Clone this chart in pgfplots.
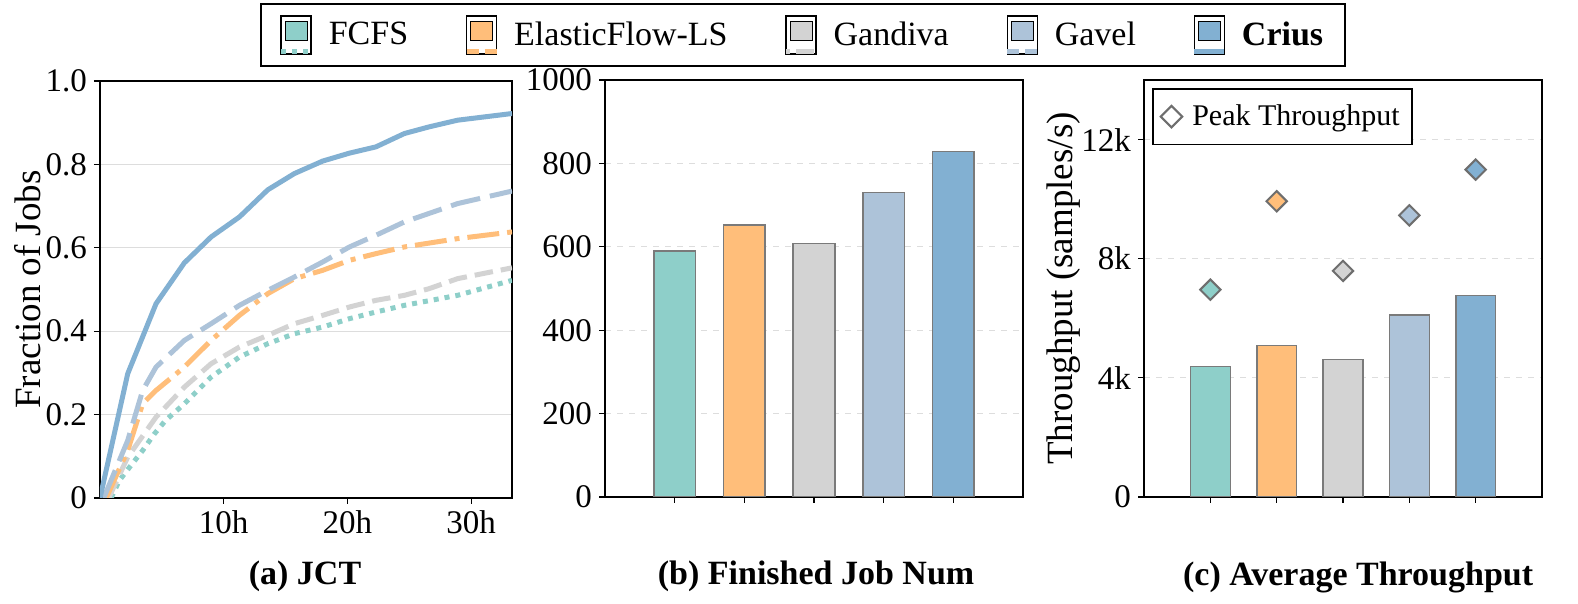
\documentclass[border=0pt]{standalone}
\usepackage{fontspec}
\setmainfont{Liberation Serif}
\usepackage{pgfplots}
\pgfplotsset{compat=1.18}

\definecolor{cFCFS}{HTML}{8ECFC9}
\definecolor{cEF}{HTML}{FFBE7A}
\definecolor{cGan}{HTML}{D3D3D3}
\definecolor{cGav}{HTML}{ADC3D9}
\definecolor{cCri}{HTML}{82B0D2}
\definecolor{edgegray}{HTML}{7A7A7A}
\definecolor{gridgray}{HTML}{DDDDDD}

\pgfplotsset{
  panel/.style={
    scale only axis, height=208.5pt,
    axis line style={black, line width=0.6pt},
    tick style={black, line width=0.6pt},
    tick align=outside, major tick length=3pt,
    xtick pos=bottom, ytick pos=left,
    ticklabel style={font=\fontsize{16.5}{18}\selectfont},
    ylabel style={font=\fontsize{18.5}{20}\selectfont},
    xlabel style={font=\fontsize{17}{20}\selectfont\bfseries, anchor=center},
    ymajorgrids,
    clip=true,
  },
  legpatch/.style 2 args={legend image code/.code={
    \path (0pt,-9.5pt) rectangle (15pt,9.5pt);
    \draw[fill=#1, draw=black, line width=0.6pt] (2pt,-2.75pt) rectangle (13pt,6.75pt);
    \draw[#1, line width=2.5pt, #2] (0pt,-8.25pt) -- (15pt,-8.25pt);
  }},
  bar/.style={ybar, bar width=0.6, bar shift=0pt, fill=#1, draw=edgegray, line width=0.75pt},
  peak/.style={only marks, mark=square*, mark size=3.6pt,
    mark options={rotate=45, fill=#1, draw=edgegray!90!black, line width=1pt}},
}

\begin{document}
\begin{tikzpicture}
\path[use as bounding box] (0pt,0pt) rectangle (789pt,302pt);

% (a) JCT CDF
\begin{axis}[panel,
  at={(50pt,53pt)}, anchor=south west, width=206pt,
  xmin=0, xmax=33.3, ymin=0, ymax=1,
  xtick={10,20,30}, xticklabels={10h,20h,30h},
  ytick={0,0.2,0.4,0.6,0.8,1.0}, yticklabels={0,0.2,0.4,0.6,0.8,1.0},
  grid style={gridgray, line width=0.6pt},
  ylabel={Fraction of Jobs},
  ylabel style={at={(axis description cs:-0.175,0.5)}, anchor=center},
  xlabel={(a) JCT},
  xlabel style={at={(axis description cs:0.4976,-0.189)}},
  legend columns=5,
  legend style={at={(axis description cs:1.7063,1.1103)}, anchor=center,
    draw=black, line width=0.8pt, font=\fontsize{17}{20}\selectfont,
    inner xsep=9pt, inner ysep=5.5pt,
    /tikz/every odd column/.append style={column sep=5.5pt},
    /tikz/every even column/.append style={column sep=26pt}},
  legend cell align=left,
]
\addlegendimage{legpatch={cFCFS}{dash pattern=on 2.5pt off 3pt}}
\addlegendentry{FCFS}
\addlegendimage{legpatch={cEF}{dash pattern=on 6pt off 3pt}}
\addlegendentry{ElasticFlow-LS}
\addlegendimage{legpatch={cGan}{dash pattern=on 2pt off 3pt on 9pt off 1pt}}
\addlegendentry{Gandiva}
\addlegendimage{legpatch={cGav}{dash pattern=on 6pt off 3pt}}
\addlegendentry{Gavel}
\addlegendimage{legpatch={cCri}{}}
\addlegendentry{\textbf{Crius}}

\addplot[forget plot, cFCFS, line width=2.5pt, dash pattern=on 2.5pt off 3pt] coordinates {
 (0.9,0) (1.56,0.042) (2.5,0.078) (3.45,0.114) (4.4,0.154) (5.3,0.186) (6.82,0.226)
 (8.98,0.29) (11.27,0.338) (13.56,0.37) (15.71,0.394) (18.0,0.41) (20.16,0.43)
 (22.3,0.446) (24.6,0.462) (28.9,0.486) (33.3,0.522)};
\addplot[forget plot, cGan, line width=2.5pt, dash pattern=on 9.25pt off 4pt] coordinates {
 (0.7,0) (2.24,0.098) (4.53,0.194) (6.82,0.266) (8.98,0.322) (11.27,0.362)
 (13.56,0.39) (15.71,0.418) (18.0,0.438) (20.16,0.458) (22.3,0.474) (24.6,0.486)
 (26.6,0.502) (28.9,0.526) (33.3,0.552)};
\addplot[forget plot, cEF, line width=2.5pt, dash pattern=on 16pt off 4pt on 2.5pt off 4pt] coordinates {
 (0.5,0) (2.24,0.114) (3.45,0.226) (4.53,0.258) (6.82,0.314) (8.98,0.378)
 (11.27,0.438) (13.56,0.49) (15.71,0.526) (18.0,0.546) (20.16,0.57) (22.3,0.586)
 (24.6,0.602) (28.9,0.622) (33.3,0.638)};
\addplot[forget plot, cGav, line width=2.5pt, dash pattern=on 15pt off 5pt] coordinates {
 (0.3,0) (2.24,0.138) (3.45,0.258) (4.53,0.314) (6.82,0.378) (8.98,0.418)
 (11.27,0.462) (13.56,0.498) (15.71,0.53) (18.0,0.566) (20.16,0.602) (22.3,0.63)
 (24.6,0.662) (28.9,0.706) (33.3,0.736)};
\addplot[forget plot, cCri, line width=2.5pt] coordinates {
 (0,0) (2.24,0.298) (4.53,0.466) (6.82,0.564) (8.98,0.626) (11.27,0.674)
 (13.56,0.739) (15.71,0.778) (18.0,0.808) (20.16,0.827) (22.3,0.842) (24.6,0.874)
 (26.6,0.890) (28.9,0.906) (33.3,0.922)};
\end{axis}

% (b) Finished Job Num
\begin{axis}[panel,
  at={(302.5pt,53.5pt)}, anchor=south west, width=209pt,
  xmin=-1, xmax=5, ymin=0, ymax=1000,
  xtick={0,1,2,3,4}, xticklabels={},
  ytick={0,200,400,600,800,1000}, yticklabels={0,200,400,600,800,1000},
  grid style={gridgray, line width=0.6pt, dashed},
  xlabel={(b) Finished Job Num},
  xlabel style={at={(axis description cs:0.505,-0.19)}},
]
\addplot[bar=cFCFS] coordinates {(0,590)};
\addplot[bar=cEF] coordinates {(1,652)};
\addplot[bar=cGan] coordinates {(2,608)};
\addplot[bar=cGav] coordinates {(3,730)};
\addplot[bar=cCri] coordinates {(4,829)};
\end{axis}

% (c) Average Throughput
\begin{axis}[panel,
  at={(572pt,53.5pt)}, anchor=south west, width=199pt,
  xmin=-1, xmax=5, ymin=0, ymax=14000,
  xtick={0,1,2,3,4}, xticklabels={},
  ytick={0,4000,8000,12000}, yticklabels={0,4k,8k,12k},
  scaled y ticks=false,
  grid style={gridgray, line width=0.6pt, dashed},
  ylabel={Throughput (samples/s)},
  ylabel style={at={(axis description cs:-0.201,0.5)}, anchor=center},
  xlabel={(c) Average Throughput},
  xlabel style={at={(axis description cs:0.538,-0.192)}},
  legend style={at={(axis description cs:0.02,0.981)}, anchor=north west,
    draw=black, line width=0.8pt, font=\fontsize{15}{18}\selectfont,
    inner xsep=4pt, inner ysep=6pt,
    /tikz/every odd column/.append style={column sep=3pt}},
  legend cell align=left,
]
\addlegendimage{only marks, mark=square, mark size=3.8pt,
  mark options={rotate=45, draw=edgegray!90!black, line width=1pt}}
\addlegendentry{Peak Throughput}
\addplot[forget plot, bar=cFCFS] coordinates {(0,4380)};
\addplot[forget plot, bar=cEF] coordinates {(1,5090)};
\addplot[forget plot, bar=cGan] coordinates {(2,4615)};
\addplot[forget plot, bar=cGav] coordinates {(3,6110)};
\addplot[forget plot, bar=cCri] coordinates {(4,6770)};
\addplot[forget plot, peak=cFCFS] coordinates {(0,6960)};
\addplot[forget plot, peak=cEF] coordinates {(1,9930)};
\addplot[forget plot, peak=cGan] coordinates {(2,7590)};
\addplot[forget plot, peak=cGav] coordinates {(3,9455)};
\addplot[forget plot, peak=cCri] coordinates {(4,10990)};
\end{axis}
\end{tikzpicture}
\end{document}
